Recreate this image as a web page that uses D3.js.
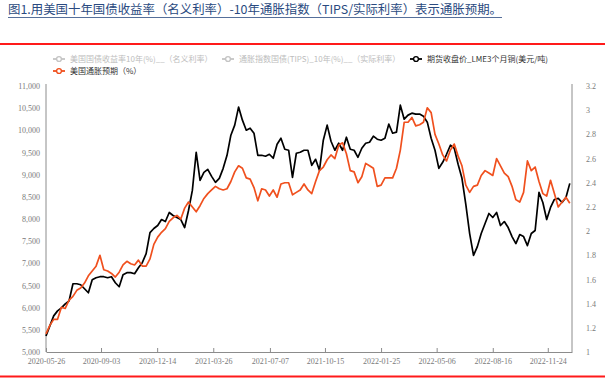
<!DOCTYPE html>
<html>
<head>
<meta charset="utf-8">
<script src="https://cdn.jsdelivr.net/npm/d3@7"></script>
<style>
  body { margin: 0; background: #fff; }
  svg { display: block; }
</style>
</head>
<body>
<div id="chart"></div>
<script>
const title = "图1.用美国十年国债收益率（名义利率）-10年通胀指数（TIPS/实际利率）表示通胀预期。";

const legendNames = [
  "美国国债收益率10年(%)__（名义利率）",
  "通胀指数国债(TIPS)_10年(%)__（实际利率）",
  "期货收盘价_LME3个月铜(美元/吨)",
  "美国通胀预期（%）"
];

// weekly samples
const dates = [
  "2020-05-26","2020-06-02","2020-06-09","2020-06-16","2020-06-23","2020-06-30","2020-07-07","2020-07-14",
  "2020-07-21","2020-07-28","2020-08-04","2020-08-11","2020-08-18","2020-08-25","2020-09-01","2020-09-08",
  "2020-09-15","2020-09-22","2020-09-29","2020-10-06","2020-10-13","2020-10-20","2020-10-27","2020-11-03",
  "2020-11-10","2020-11-17","2020-11-24","2020-12-01","2020-12-08","2020-12-15","2020-12-22","2020-12-29",
  "2021-01-05","2021-01-12","2021-01-19","2021-01-26","2021-02-02","2021-02-09","2021-02-16","2021-02-23",
  "2021-03-02","2021-03-09","2021-03-16","2021-03-23","2021-03-30","2021-04-06","2021-04-13","2021-04-20",
  "2021-04-27","2021-05-04","2021-05-11","2021-05-18","2021-05-25","2021-06-01","2021-06-08","2021-06-15",
  "2021-06-22","2021-06-29","2021-07-06","2021-07-13","2021-07-20","2021-07-27","2021-08-03","2021-08-10",
  "2021-08-17","2021-08-24","2021-08-31","2021-09-07","2021-09-14","2021-09-21","2021-09-28","2021-10-05",
  "2021-10-12","2021-10-19","2021-10-26","2021-11-02","2021-11-09","2021-11-16","2021-11-23","2021-11-30",
  "2021-12-07","2021-12-14","2021-12-21","2021-12-28","2022-01-04","2022-01-11","2022-01-18","2022-01-25",
  "2022-02-01","2022-02-08","2022-02-15","2022-02-22","2022-03-01","2022-03-08","2022-03-15","2022-03-22",
  "2022-03-29","2022-04-05","2022-04-12","2022-04-19","2022-04-26","2022-05-03","2022-05-10","2022-05-17",
  "2022-05-24","2022-05-31","2022-06-07","2022-06-14","2022-06-21","2022-06-28","2022-07-05","2022-07-12",
  "2022-07-19","2022-07-26","2022-08-02","2022-08-09","2022-08-16","2022-08-23","2022-08-30","2022-09-06",
  "2022-09-13","2022-09-20","2022-09-27","2022-10-04","2022-10-11","2022-10-18","2022-10-25","2022-11-01",
  "2022-11-08","2022-11-15","2022-11-22","2022-11-29","2022-12-06","2022-12-13","2022-12-20","2022-12-27",
  "2023-01-03"
];

const copper = [
  5362,5589,5815,5928,5996,6087,6155,6540,6540,6517,6426,6336,6630,6675,6698,6698,
  6675,6698,6562,6472,6743,6789,6789,6766,6902,7015,7219,7694,7785,7853,7988,7943,
  8147,8079,8034,7988,7807,8192,8645,9505,8871,9053,9120,8962,8826,8917,9143,9437,
  9890,10117,10524,10230,10003,10049,9935,9437,9437,9415,9460,9370,9687,9822,9573,9551,
  8939,9483,9505,9551,9551,9211,9347,9098,9777,10117,9754,9551,9709,9551,9845,9573,
  9551,9392,9596,9709,9732,9868,9800,9777,9822,10139,9935,9958,10569,10252,10343,10388,
  10366,10366,10320,10184,9822,9551,9143,9279,9460,9664,9596,9234,8917,8328,7672,7180,
  7377,7672,7898,8124,8034,8147,7853,7943,7807,7604,7445,7649,7604,7400,7672,7740,
  8600,8373,7988,8260,8441,8464,8373,8487,8804
];

const breakeven = [
  1.15,1.22,1.27,1.27,1.37,1.36,1.43,1.46,1.51,1.53,1.57,1.63,1.67,1.71,1.80,1.68,
  1.67,1.65,1.62,1.66,1.72,1.75,1.73,1.72,1.76,1.71,1.71,1.77,1.89,1.95,1.99,2.02,
  2.08,2.11,2.13,2.10,2.19,2.24,2.20,2.16,2.21,2.27,2.31,2.34,2.37,2.35,2.34,2.35,
  2.41,2.49,2.54,2.52,2.44,2.43,2.36,2.25,2.35,2.34,2.29,2.34,2.28,2.39,2.40,2.40,
  2.30,2.32,2.34,2.39,2.34,2.31,2.41,2.50,2.53,2.59,2.63,2.60,2.71,2.73,2.64,2.50,
  2.49,2.40,2.45,2.56,2.54,2.52,2.37,2.38,2.44,2.44,2.44,2.52,2.67,2.90,2.90,2.94,
  2.87,2.88,2.90,3.02,2.98,2.80,2.72,2.63,2.58,2.67,2.72,2.62,2.54,2.38,2.32,2.37,
  2.38,2.46,2.50,2.48,2.46,2.60,2.54,2.48,2.45,2.37,2.26,2.24,2.32,2.58,2.50,2.53,
  2.41,2.31,2.29,2.42,2.31,2.20,2.24,2.28,2.23
];

const xTicks = ["2020-05-26","2020-09-03","2020-12-14","2021-03-26","2021-07-07",
                "2021-10-15","2022-01-25","2022-05-06","2022-08-16","2022-11-24"];
const leftTicks = [5000,5500,6000,6500,7000,7500,8000,8500,9000,9500,10000,10500,11000];
const rightTicks = [1,1.2,1.4,1.6,1.8,2,2.2,2.4,2.6,2.8,3,3.2];

const W = 605, H = 378;
const margin = {top: 86, right: 33, bottom: 26, left: 46};
const parse = d3.timeParse("%Y-%m-%d");
const cjk = "'Noto Sans CJK SC', sans-serif";
const num = "'Liberation Serif', serif";
const orange = "#f0501e";

const svg = d3.select("#chart").append("svg")
  .attr("width", W)
  .attr("height", H);

// title
svg.append("text")
  .attr("x", 8).attr("y", 14)
  .attr("font-family", cjk).attr("font-size", 12.3)
  .attr("fill", "#2a4a80")
  .attr("textLength", 494).attr("lengthAdjust", "spacingAndGlyphs")
  .text(title);
svg.append("line")
  .attr("x1", 8).attr("x2", 502).attr("y1", 17.5).attr("y2", 17.5)
  .attr("stroke", "#2a4a80").attr("stroke-width", 0.8);

// red rules
svg.append("line").attr("x1", 0).attr("x2", W).attr("y1", 44).attr("y2", 44)
  .attr("stroke", "#ff1a1a").attr("stroke-width", 2);
svg.append("line").attr("x1", 0).attr("x2", W).attr("y1", 376.5).attr("y2", 376.5)
  .attr("stroke", "#ff1a1a").attr("stroke-width", 2);

const x = d3.scaleTime()
  .domain([parse("2020-05-26"), parse("2023-01-07")])
  .range([margin.left, W - margin.right]);
const yL = d3.scaleLinear().domain([5000, 11000]).range([H - margin.bottom, margin.top]);
const yR = d3.scaleLinear().domain([1, 3.2]).range([H - margin.bottom, margin.top]);

// axes
const gx = svg.append("g")
  .attr("transform", "translate(0," + (H - margin.bottom) + ")")
  .call(d3.axisBottom(x)
    .tickValues(xTicks.map(parse))
    .tickFormat(d3.timeFormat("%Y-%m-%d"))
    .tickSizeInner(-4).tickSizeOuter(0).tickPadding(6));

const gl = svg.append("g")
  .attr("transform", "translate(" + margin.left + ",0)")
  .call(d3.axisLeft(yL).tickValues(leftTicks).tickFormat(d3.format(","))
    .tickSize(0).tickPadding(6));

const gr = svg.append("g")
  .attr("transform", "translate(" + (W - margin.right) + ",0)")
  .call(d3.axisRight(yR).tickValues(rightTicks).tickFormat(d => +d.toFixed(1))
    .tickSize(0).tickPadding(14));

[gx, gl, gr].forEach(g => {
  g.select(".domain").attr("stroke", "#8c8c8c").attr("stroke-width", 1);
  g.selectAll(".tick line").attr("stroke", "#8c8c8c");
  g.selectAll("text")
    .attr("font-family", num).attr("font-size", 8)
    .attr("fill", "#7a7a7a");
});
gr.select(".domain").attr("d", "M0," + (margin.top - 2) + "V" + (H - margin.bottom));
gl.select(".domain").attr("d", "M0," + (margin.top - 2) + "V" + (H - margin.bottom));

// series
const rows = dates.map((d, i) => ({date: parse(d), cu: copper[i], be: breakeven[i]}));

svg.append("path")
  .datum(rows)
  .attr("fill", "none")
  .attr("stroke", "#000")
  .attr("stroke-width", 1.7)
  .attr("stroke-linejoin", "round")
  .attr("d", d3.line().x(d => x(d.date)).y(d => yL(d.cu)));

svg.append("path")
  .datum(rows)
  .attr("fill", "none")
  .attr("stroke", orange)
  .attr("stroke-width", 1.7)
  .attr("stroke-linejoin", "round")
  .attr("d", d3.line().x(d => x(d.date)).y(d => yR(d.be)));

// legend
const legendPos = [[53, 59], [222, 59], [410, 59], [53, 71]];
const legendColors = ["#c4c4c4", "#c4c4c4", "#000", orange];
const legendText = ["#bdbdbd", "#bdbdbd", "#333", "#333"];

legendNames.forEach((name, i) => {
  const g = svg.append("g")
    .attr("transform", "translate(" + legendPos[i][0] + "," + legendPos[i][1] + ")");
  g.append("line").attr("x1", 0).attr("x2", 12)
    .attr("stroke", legendColors[i]).attr("stroke-width", 1.8);
  g.append("circle").attr("cx", 6).attr("r", 2.4)
    .attr("fill", "#fff").attr("stroke", legendColors[i]).attr("stroke-width", 1.4);
  g.append("text")
    .attr("x", 17).attr("dy", "0.35em")
    .attr("font-family", cjk).attr("font-size", 8)
    .attr("fill", legendText[i])
    .text(name);
});
</script>
</body>
</html>
